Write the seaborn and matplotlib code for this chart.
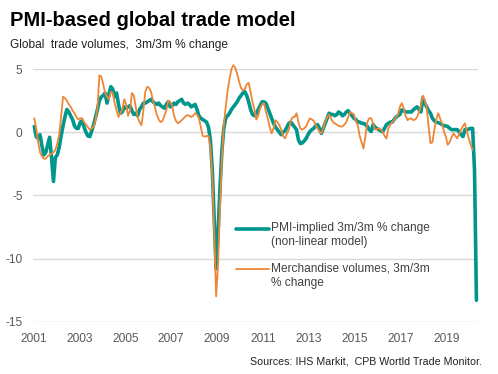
import numpy as np
import pandas as pd
import matplotlib
matplotlib.use("Agg")
import matplotlib.pyplot as plt
import seaborn as sns
from matplotlib.legend_handler import HandlerLine2D

# ---- data (monthly, Jan 2001 .. Apr 2020) ----
start_year = 2001
pmi_implied = [
    0.45, -0.35, -0.5, -0.2, -1.1, -1.8, -1.6, -1.0, -0.4, -2.0, -3.9, -2.0,
    -1.8, -1.2, -0.3, 0.5, 1.2, 1.8, 1.6, 1.3, 1.0, 0.5, 0.3, 0.3,
    0.8, 0.9, 0.4, 0.0, -0.3, -0.35, 0.1, 0.6, 1.2, 1.8, 2.5, 2.8,
    2.9, 3.1, 2.3, 3.0, 3.6, 3.4, 2.8, 3.1, 2.2, 1.5, 1.6, 2.0,
    1.9, 2.0, 2.1, 1.7, 1.4, 1.5, 1.3, 1.8, 2.0, 2.3, 2.3, 2.4,
    2.5, 2.6, 2.4, 2.3, 2.2, 2.3, 2.1, 2.0, 1.9, 2.2, 2.4, 2.0,
    2.1, 2.3, 2.2, 2.4, 2.5, 2.6, 2.3, 2.2, 2.3, 2.2, 2.0, 2.1,
    2.2, 1.8, 1.3, 1.1, 1.0, 0.9, 0.8, 0.4, -0.6, -3.0, -7.0, -10.8,
    -8.0, -4.5, -1.5, 0.3, 1.1, 1.3, 1.5, 1.8, 2.0, 2.2, 2.4, 2.7,
    2.9, 3.1, 3.2, 2.9, 2.4, 1.8, 1.4, 1.3, 1.5, 1.8, 2.1, 2.4,
    2.4, 2.3, 1.9, 1.5, 1.1, 0.7, 0.4, 0.2, 0.0, -0.2, 0.0, 0.1,
    0.4, 0.7, 0.8, 0.6, 0.4, 0.2, -0.6, -0.9, -0.85, -0.7, -0.5, -0.2,
    0.05, 0.2, 0.3, 0.5, 0.6, 0.3, -0.1, 0.3, 0.7, 1.1, 1.5, 1.4,
    1.4, 1.3, 1.4, 1.6, 1.5, 1.3, 1.4, 1.6, 1.7, 1.5, 1.3, 1.1,
    1.0, 0.8, 0.8, 0.7, 0.7, 0.6, 0.45, 0.2, 0.05, 0.6, 0.4, 0.3,
    0.2, 0.1, 0.05, 0.3, 0.6, 0.7, 0.8, 0.8, 1.0, 1.2, 1.3, 1.4,
    1.76, 1.7, 1.6, 1.6, 1.6, 1.6, 1.76, 1.9, 2.0, 1.8, 1.6, 2.7,
    2.3, 2.0, 1.7, 1.5, 1.1, 0.9, 0.8, 0.75, 0.7, 0.6, 0.5, 0.5,
    0.45, 0.3, 0.2, 0.2, 0.2, 0.2, 0.0, -0.2, -0.35, 0.2, 0.2, 0.25,
    0.3, 0.3, -3.0, -13.3,
]
merchandise = [
    1.1, 0.3, -0.8, -1.6, -1.9, -2.1, -2.1, -1.9, -1.8, -1.7, -1.6, -1.4,
    -0.9, -0.2, 1.2, 2.8, 2.7, 2.5, 2.2, 2.0, 1.7, 1.5, 1.2, 1.0,
    1.1, 1.1, 0.8, 0.6, 0.4, 0.2, 0.3, 0.45, 1.0, 1.9, 4.5, 4.4,
    3.8, 3.1, 2.8, 2.6, 3.2, 3.1, 2.3, 1.7, 1.2, 1.5, 1.8, 2.6,
    2.2, 1.3, 1.7, 3.1, 2.9, 2.0, 1.2, 0.8, 0.55, 1.75, 3.2, 3.6,
    3.5, 3.2, 2.5, 2.0, 1.4, 1.0, 0.8, 0.9, 1.3, 1.75, 2.5, 2.4,
    2.1, 1.3, 0.9, 0.7, 0.8, 0.95, 1.1, 1.25, 1.35, 1.3, 1.2, 1.3,
    1.5, 1.4, 1.1, 0.4, -0.3, -0.35, -0.3, -0.3, -1.2, -3.5, -8.0, -13.0,
    -10.5, -6.0, -2.2, 0.5, 2.0, 3.3, 4.2, 5.0, 5.3, 5.1, 4.6, 4.0,
    3.5, 3.3, 3.4, 3.8, 3.9, 3.2, 2.4, 1.8, 1.0, 1.3, 1.9, 2.2,
    2.3, 1.6, 1.1, 0.4, -0.1, 0.3, 0.95, 0.8, 0.55, 0.2, -0.3, -0.5,
    -0.1, 0.2, 0.9, 1.2, 1.2, 1.5, 0.8, 0.3, 0.2, 0.3, 0.45, 0.8,
    1.1, 1.0, 0.9, 0.55, 0.3, 0.05, -0.1, 0.3, 0.8, 1.2, 1.4, 1.1,
    0.8, 0.7, 0.6, 0.5, 0.45, 0.45, 0.6, 0.8, 1.2, 1.6, 1.5, 1.4,
    0.9, 0.55, -0.3, -0.8, -1.3, -0.3, 0.8, 1.1, 1.1, 0.7, 0.2, 0.25,
    0.3, 0.2, 0.05, -0.3, -0.5, 0.3, 0.6, 0.8, 0.95, 1.2, 1.4, 2.0,
    2.3, 1.9, 1.3, 0.95, 1.05, 1.1, 0.95, 1.0, 1.2, 1.6, 2.1, 2.9,
    2.5, 2.0, 0.45, -0.87, -0.8, 0.2, 1.0, 1.5, 1.1, 0.7, 0.1, -0.35,
    -1.0, -0.8, -0.4, -0.1, -0.3, -0.5, -0.1, 0.2, 0.5, 0.7, 0.05, -0.5,
    -1.0, -1.4,
]
year_ticks = [2001, 2003, 2005, 2007, 2009, 2011, 2013, 2015, 2017, 2019]
y_ticks = [-15, -10, -5, 0, 5]
label_pmi = "PMI-implied 3m/3m % change\n(non-linear model)"
label_merch = "Merchandise volumes, 3m/3m\n% change"

n = len(pmi_implied)
merch_full = merchandise + [np.nan] * (n - len(merchandise))
t = start_year + (np.arange(n) + 0.5) / 12.0
df = pd.DataFrame({"t": t, "pmi": pmi_implied, "merch": merch_full})

# ---- style ----
sns.set_theme(style="white")
plt.rcParams["font.family"] = ["Liberation Sans", "DejaVu Sans"]

TEAL = "#00968b"
ORANGE = "#ee8636"
GREY_TXT = "#595959"

W, H = 498, 374
fig = plt.figure(figsize=(W / 100, H / 100), dpi=100)
ax = fig.add_axes([33 / W, (H - 321.7) / H, 445 / W, 252.7 / H])

sns.lineplot(data=df, x="t", y="pmi", ax=ax, color=TEAL, linewidth=2.6,
             label=label_pmi, clip_on=False)
sns.lineplot(data=df, x="t", y="merch", ax=ax, color=ORANGE, linewidth=1.3,
             label=label_merch, clip_on=False)

ax.set_xlim(2000.985, 2020.36)
ax.set_ylim(-15, 5)
ax.set_yticks(y_ticks)
ax.set_xticks(year_ticks)
ax.set_xticklabels([str(y) for y in year_ticks])
ax.set_yticklabels([str(v) for v in y_ticks])
ax.yaxis.grid(True, color="#d9d9d9", linewidth=1.0)
ax.xaxis.grid(False)
ax.set_axisbelow(True)
for s in ax.spines.values():
    s.set_visible(False)
ax.tick_params(axis="both", length=0, labelsize=8.6, labelcolor=GREY_TXT)
ax.tick_params(axis="y", pad=7.5)
ax.tick_params(axis="x", pad=8)
ax.set_xlabel("")
ax.set_ylabel("")


class TopLineHandler(HandlerLine2D):
    def create_artists(self, legend, orig_handle, xdescent, ydescent, width,
                       height, fontsize, trans):
        arts = super().create_artists(legend, orig_handle, xdescent, ydescent,
                                      width, height, fontsize, trans)
        for a in arts:
            a.set_ydata(np.asarray(a.get_ydata(), dtype=float) + 4.8)
        return arts


handles, labels = ax.get_legend_handles_labels()
leg = ax.legend(handles, labels, loc="upper left",
                bbox_to_anchor=(236 / W, 1 - 222 / H),
                bbox_transform=fig.transFigure, frameon=False,
                fontsize=8.6, handlelength=2.75, handletextpad=0.15,
                labelspacing=1.25, borderaxespad=0, borderpad=0,
                handler_map={h: TopLineHandler() for h in handles})
for txt in leg.get_texts():
    txt.set_color("#404040")

fig.text(10 / W, 1 - 21 / H, "PMI-based global trade model", fontsize=14.5,
         fontweight="bold", color="#000000", va="center", ha="left")
fig.text(10 / W, 1 - 45 / H, "Global  trade volumes,  3m/3m % change",
         fontsize=8.6, color="#222222", va="center", ha="left")
fig.text(482 / W, 1 - 361 / H, "Sources: IHS Markit,  CPB Wortld Trade Monitor.",
         fontsize=7.7, color="#222222", va="center", ha="right")

fig.savefig("out.png", dpi=100)
